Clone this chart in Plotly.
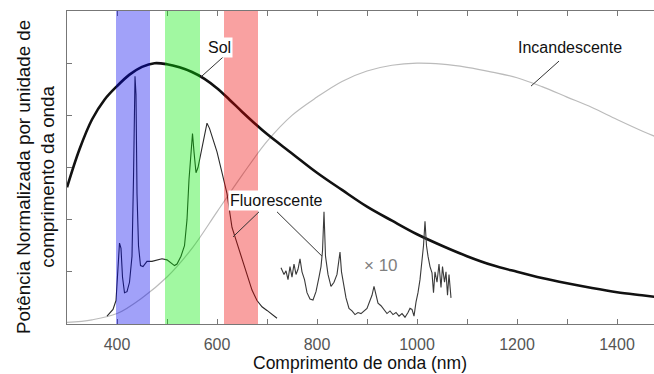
import plotly.graph_objects as go

# ---- data ----
sun_nm = [300, 325, 350, 375, 400, 425, 450, 475, 500, 525, 550, 575, 600, 625, 650, 675,
          700, 750, 800, 850, 900, 950, 1000, 1050, 1100, 1150, 1200, 1250, 1300, 1350,
          1400, 1450, 1475]
sun_val = [2.62, 3.35, 3.92, 4.3, 4.56, 4.78, 4.93, 5.0, 4.98, 4.92, 4.83, 4.7, 4.52, 4.3,
           4.07, 3.85, 3.64, 3.27, 2.9, 2.57, 2.25, 1.98, 1.72, 1.5, 1.3, 1.13, 1.0, 0.88,
           0.78, 0.69, 0.61, 0.55, 0.52]

inc_nm = [300, 350, 400, 450, 500, 550, 600, 650, 700, 750, 800, 850, 900, 950, 1000,
          1050, 1100, 1150, 1200, 1250, 1300, 1350, 1400, 1450, 1475]
inc_val = [0.03, 0.08, 0.2, 0.5, 0.9, 1.45, 2.15, 2.85, 3.5, 4.0, 4.35, 4.65, 4.85, 4.96,
           5.0, 4.98, 4.92, 4.83, 4.72, 4.55, 4.35, 4.15, 3.92, 3.7, 3.6]

flu_nm = [380, 385, 392, 398, 402, 405, 408, 411, 415, 420, 425, 430, 433, 436, 438, 440,
          443, 447, 452, 460, 470, 480, 490, 500, 508, 515, 520, 528, 535, 540, 544, 548,
          551, 554, 558, 562, 568, 575, 580, 585, 590, 596, 600, 610, 620, 630, 640, 650,
          660, 670, 680, 690, 700, 710, 720]
flu_val = [0.15, 0.2, 0.28, 0.45, 1.0, 1.55, 1.45, 0.9, 0.6, 0.62, 0.8, 1.3, 2.8, 4.75,
           4.4, 2.5, 1.5, 1.12, 1.1, 1.2, 1.2, 1.22, 1.25, 1.23, 1.18, 1.12, 1.15, 1.3,
           1.5, 2.0, 2.77, 3.4, 3.65, 3.3, 2.9, 3.0, 3.3, 3.65, 3.85, 3.75, 3.6, 3.45, 3.3,
           2.9, 2.5, 1.85, 1.55, 1.25, 0.95, 0.65, 0.45, 0.33, 0.26, 0.18, 0.11]

ir_nm = [728, 734, 738, 742, 746, 750, 754, 758, 762, 766, 770, 775, 780, 786, 792, 798,
         804, 808, 811, 814, 817, 822, 828, 834, 840, 844, 846, 849, 853, 858, 864, 870,
         876, 882, 888, 894, 900, 906, 910, 914, 918, 922, 928, 934, 940, 946, 952, 958,
         964, 970, 976, 982, 986, 990, 994, 998, 1002, 1006, 1010, 1013, 1016, 1019, 1022,
         1026, 1030, 1033, 1036, 1040, 1044, 1048, 1051, 1055, 1058, 1061, 1064, 1066, 1068]
ir_val = [1.08, 0.95, 1.02, 0.85, 1.1, 0.9, 1.15, 0.95, 1.05, 1.25, 1.0, 0.85, 0.6, 0.48,
          0.46, 0.62, 0.9, 1.1, 1.4, 2.15, 1.3, 0.95, 0.72, 0.8, 0.95, 1.2, 1.38, 1.0, 0.75,
          0.5, 0.3, 0.25, 0.18, 0.22, 0.2, 0.25, 0.3, 0.45, 0.55, 0.72, 0.55, 0.4, 0.35,
          0.28, 0.2, 0.25, 0.18, 0.22, 0.15, 0.2, 0.13, 0.22, 0.3, 0.28, 0.15, 0.42, 0.6,
          0.85, 1.2, 1.5, 1.97, 1.5, 1.3, 1.1, 0.98, 0.6, 1.0, 0.8, 1.15, 0.7, 1.1, 0.8, 1.0,
          0.55, 0.95, 0.6, 0.5]

bands = [(398, 466, "rgb(0,0,240)"), (496, 566, "rgb(0,235,0)"), (614, 682, "rgb(240,0,0)")]

x_ticks = [300, 400, 500, 600, 700, 800, 900, 1000, 1100, 1200, 1300, 1400]
x_labels = ["", "400", "", "600", "", "800", "", "1000", "", "1200", "", "1400"]
y_ticks = [1, 2, 3, 4, 5]

FONT = "Liberation Sans, Arial, sans-serif"

fig = go.Figure()
fig.add_trace(go.Scatter(x=inc_nm, y=inc_val, mode="lines", line=dict(color="#bbbbbb", width=1.2, shape="spline"), hoverinfo="skip"))
fig.add_trace(go.Scatter(x=sun_nm, y=sun_val, mode="lines", line=dict(color="#111111", width=2.6, shape="spline"), hoverinfo="skip"))
fig.add_trace(go.Scatter(x=flu_nm, y=flu_val, mode="lines", line=dict(color="#2a2a2a", width=1.1), hoverinfo="skip"))
fig.add_trace(go.Scatter(x=ir_nm, y=ir_val, mode="lines", line=dict(color="#3a3a3a", width=1.1), hoverinfo="skip"))

for x0, x1, c in bands:
    fig.add_shape(type="rect", xref="x", yref="paper", x0=x0, x1=x1, y0=0, y1=1,
                  fillcolor=c, opacity=0.37, line_width=0, layer="above")

# callout lines
callouts = [((616, 5.15), (566, 4.72)), ((1284, 5.04), (1228, 4.56)),
            ((684, 2.15), (632, 1.67)), ((720, 2.15), (810, 1.3))]
for (xa, ya), (xb, yb) in callouts:
    fig.add_shape(type="line", x0=xa, y0=ya, x1=xb, y1=yb, line=dict(color="#333333", width=1), layer="above")

labels = [("Sol", 604, 5.3, "#111111"), ("Incandescente", 1306, 5.3, "#111111"),
          ("Fluorescente", 718, 2.37, "#111111")]
for t, x, y, c in labels:
    fig.add_annotation(x=x, y=y, text=t, showarrow=False, bgcolor="white",
                       font=dict(family=FONT, size=16, color=c), borderpad=1)
fig.add_annotation(x=928, y=1.13, text="× 10", showarrow=False,
                   font=dict(family=FONT, size=17, color="#808080"))

fig.add_annotation(xref="paper", yref="paper", x=(360 - 67) / 587, y=(324 - 363) / 313,
                   text="Comprimento de onda (nm)", showarrow=False,
                   font=dict(family=FONT, size=17.5, color="#111111"), xanchor="center", yanchor="middle")
fig.add_annotation(xref="paper", yref="paper", x=(35 - 67) / 587, y=(324 - 177) / 313,
                   text="Potência Normalizada por unidade de<br>comprimento da onda", showarrow=False,
                   textangle=-90, font=dict(family=FONT, size=18.8, color="#111111"),
                   xanchor="center", yanchor="middle")

fig.update_layout(
    width=654, height=374, margin=dict(l=67, r=0, t=11, b=50),
    paper_bgcolor="white", plot_bgcolor="white", showlegend=False,
    font=dict(family=FONT),
    xaxis=dict(range=[300, 1474], tickvals=x_ticks, ticktext=x_labels, ticks="inside", ticklen=5,
               tickcolor="#777777", showline=True, linecolor="#777777", linewidth=1, mirror="ticks",
               showgrid=False, zeroline=False, tickfont=dict(size=16, color="#555555"),
               ticklabelstandoff=6),
    yaxis=dict(range=[0, 6], tickvals=y_ticks, ticktext=[""] * 5, ticks="inside", ticklen=5,
               tickcolor="#777777", showline=True, linecolor="#777777", linewidth=1, mirror=False,
               showgrid=False, zeroline=False),
)
fig.write_html("out.html")
